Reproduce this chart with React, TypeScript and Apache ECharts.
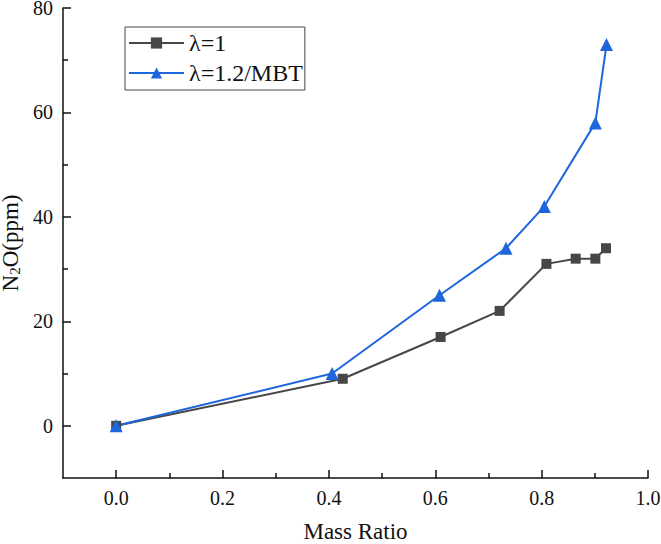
import { useEffect, useRef } from 'react'
import * as echarts from 'echarts'

// λ=1 series
const lambda1X = [0, 0.426, 0.61, 0.721, 0.809, 0.864, 0.901, 0.921]
const lambda1Y = [0, 9, 17, 22, 31, 32, 32, 34]
// λ=1.2/MBT series
const mbtX = [0, 0.406, 0.608, 0.733, 0.805, 0.901, 0.922]
const mbtY = [0, 10, 25, 34, 42, 58, 73]

const xMajor = [0, 0.2, 0.4, 0.6, 0.8, 1.0]
const xMinor = [0.1, 0.3, 0.5, 0.7, 0.9]
const yMajor = [0, 20, 40, 60, 80]
const yMinor = [10, 30, 50, 70]

const FONT = "'Liberation Serif', 'Times New Roman', 'DejaVu Serif', serif"
const AXIS = '#111'

const App = () => {
  const chartRef = useRef<HTMLDivElement>(null)

  useEffect(() => {
    if (!chartRef.current) return
    const chart = echarts.init(chartRef.current, null, { renderer: 'svg' })

    const baseX = {
      type: 'value',
      min: -0.1,
      max: 1.0,
      splitLine: { show: false },
    }
    const baseY = {
      type: 'value',
      min: -10,
      max: 80,
      splitLine: { show: false },
    }

    chart.setOption({
      animation: false,
      backgroundColor: '#fff',
      textStyle: { fontFamily: FONT },
      // echarts 6 would otherwise shrink the grid to keep names inside
      grid: { left: 63, right: 13, top: 8, bottom: 66, containLabel: false, outerBoundsMode: 'none' },
      legend: {
        orient: 'vertical',
        left: 125,
        top: 27,
        padding: [4, 2, 5, 3],
        itemGap: 6,
        itemWidth: 55,
        itemHeight: 14,
        borderColor: '#444',
        borderWidth: 1,
        textStyle: { fontFamily: FONT, fontSize: 24, color: '#111', lineHeight: 24 },
        data: ['λ=1', 'λ=1.2/MBT'],
      },
      xAxis: [
        {
          ...baseX,
          name: 'Mass Ratio',
          nameLocation: 'middle',
          nameGap: 42,
          nameTextStyle: { fontFamily: FONT, fontSize: 23, color: '#111', lineHeight: 22 },
          axisLine: { show: true, onZero: false, lineStyle: { color: AXIS, width: 1.5 } },
          axisTick: { show: true, inside: true, length: 8, customValues: xMajor, lineStyle: { color: AXIS, width: 1.5 } },
          axisLabel: {
            customValues: xMajor,
            margin: 10,
            fontFamily: FONT,
            fontSize: 20,
            color: '#111',
            formatter: (v: number) => v.toFixed(1),
          },
        },
        {
          ...baseX,
          position: 'bottom',
          axisLine: { show: false, onZero: false },
          axisTick: { show: true, inside: true, length: 5, customValues: xMinor, lineStyle: { color: AXIS, width: 1.5 } },
          axisLabel: { show: false },
        },
      ],
      yAxis: [
        {
          ...baseY,
          name: '{a|N}{b|2}{a|O(ppm)}',
          nameLocation: 'middle',
          nameGap: 37,
          nameRotate: 90,
          nameTextStyle: {
            rich: {
              a: { fontFamily: FONT, fontSize: 23, color: '#111', lineHeight: 22 },
              b: { fontFamily: FONT, fontSize: 15, color: '#111', lineHeight: 22, padding: [8, 0, 0, 0] },
            },
          },
          axisLine: { show: true, onZero: false, lineStyle: { color: AXIS, width: 1.5 } },
          axisTick: { show: true, inside: true, length: 8, customValues: yMajor, lineStyle: { color: AXIS, width: 1.5 } },
          axisLabel: {
            customValues: yMajor,
            margin: 10,
            fontFamily: FONT,
            fontSize: 20,
            lineHeight: 16,
            color: '#111',
          },
        },
        {
          ...baseY,
          position: 'left',
          axisLine: { show: false, onZero: false },
          axisTick: { show: true, inside: true, length: 5, customValues: yMinor, lineStyle: { color: AXIS, width: 1.5 } },
          axisLabel: { show: false },
        },
      ],
      series: [
        {
          name: 'λ=1',
          type: 'line',
          symbol: 'rect',
          symbolSize: 10,
          color: '#474747',
          lineStyle: { width: 2, color: '#474747' },
          data: lambda1X.map((x, i) => [x, lambda1Y[i]]),
        },
        {
          name: 'λ=1.2/MBT',
          type: 'line',
          symbol: 'triangle',
          symbolSize: 13,
          color: '#1d66dc',
          lineStyle: { width: 2, color: '#1d66dc' },
          data: mbtX.map((x, i) => [x, mbtY[i]]),
        },
      ],
    })

    return () => {
      chart.dispose()
    }
  }, [])

  return (
    <div
      ref={chartRef}
      style={{ position: 'absolute', left: 0, top: 0, width: 661, height: 544 }}
    />
  )
}

export default App
